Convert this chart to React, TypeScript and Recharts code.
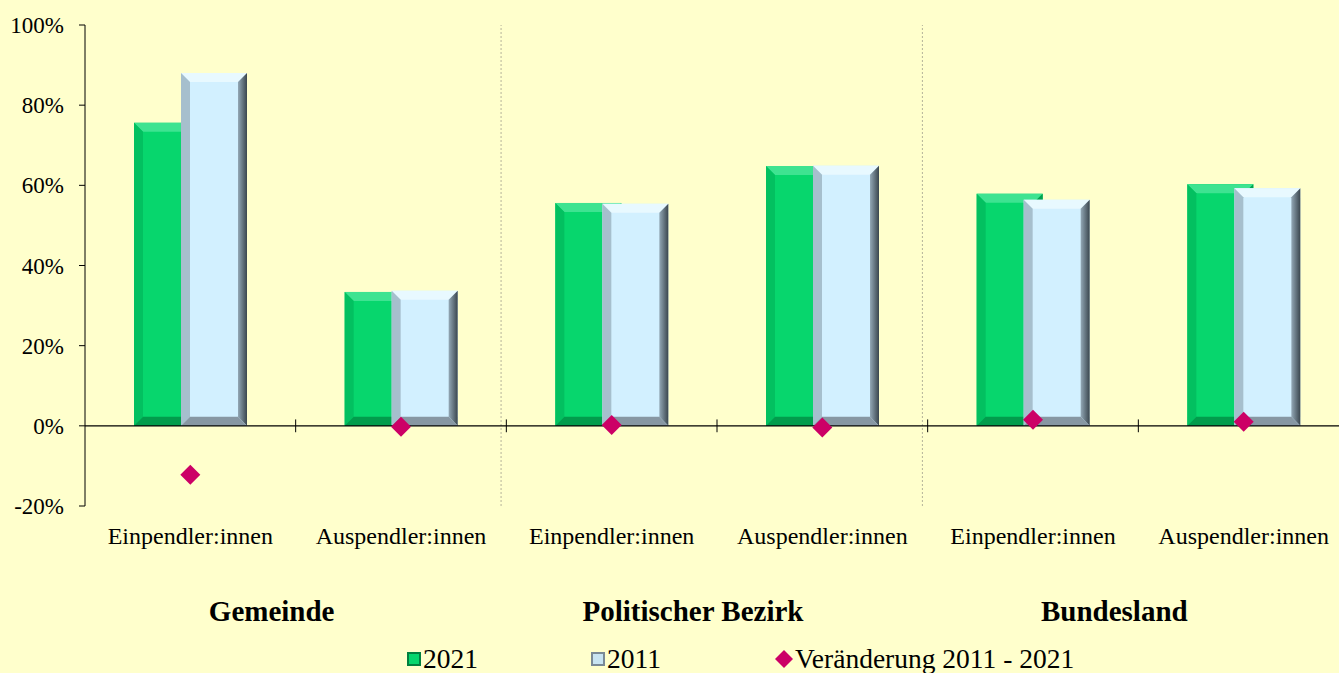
import React from "react";
import {
  ComposedChart,
  Bar,
  Line,
  XAxis,
  YAxis,
  ReferenceLine,
  Legend,
} from "recharts";

const categories = [
  "Einpendler:innen",
  "Auspendler:innen",
  "Einpendler:innen",
  "Auspendler:innen",
  "Einpendler:innen",
  "Auspendler:innen",
];
const values2021 = [75.6, 33.4, 55.6, 64.8, 57.9, 60.3];
const values2011 = [88.0, 33.7, 55.4, 64.9, 56.4, 59.3];
const valuesChange = [-12.2, -0.2, 0.2, -0.4, 1.5, 1.0];
const groupNames = ["Gemeinde", "Politischer Bezirk", "Bundesland"];
const groupCenters = [1, 3, 5];
const groupSeparators = [1.975, 3.975];
const categoryBoundaries = [1, 2, 3, 4, 5];
const yTicks = [-20, 0, 20, 40, 60, 80, 100];

const data = categories.map((c, i) => ({
  cat: c,
  pos: i + 0.5,
  v2021: values2021[i],
  v2011: values2011[i],
  change: valuesChange[i],
}));

const FONT = "'Liberation Serif', 'Times New Roman', serif";
const BG = "#FFFFCC";

type BevelColors = { face: string; top: string; left: string; right: string; bottom: string };

const greenBevel: BevelColors = {
  face: "#07D66D",
  top: "#3EE391",
  left: "#03C060",
  right: "#02A04F",
  bottom: "#029C4C",
};
const blueBevel: BevelColors = {
  face: "#D2F0FF",
  top: "#E8F9FF",
  left: "#A6BFCD",
  right: "url(#blueRight)",
  bottom: "#8797A3",
};

function makeBevel(c: BevelColors) {
  return (props: any) => {
    const { x, y, width, height } = props;
    if (!width || !height) return <g />;
    const w = width;
    const h = height;
    const b = Math.min(9, w / 4, h / 4);
    return (
      <g>
        <rect x={x} y={y} width={w} height={h} fill={c.face} />
        <polygon
          points={`${x},${y} ${x + w},${y} ${x + w - b},${y + b} ${x + b},${y + b}`}
          fill={c.top}
        />
        <polygon
          points={`${x},${y} ${x + b},${y + b} ${x + b},${y + h - b} ${x},${y + h}`}
          fill={c.left}
        />
        <polygon
          points={`${x + w},${y} ${x + w},${y + h} ${x + w - b},${y + h - b} ${x + w - b},${y + b}`}
          fill={c.right}
        />
        <polygon
          points={`${x},${y + h} ${x + b},${y + h - b} ${x + w - b},${y + h - b} ${x + w},${y + h}`}
          fill={c.bottom}
        />
      </g>
    );
  };
}

const GreenBar = makeBevel(greenBevel);
const BlueBar = makeBevel(blueBevel);

const Diamond = (props: any) => {
  const { cx, cy } = props;
  if (cx == null || cy == null) return <g />;
  const r = 10;
  return (
    <polygon
      points={`${cx},${cy - r} ${cx + r},${cy} ${cx},${cy + r} ${cx - r},${cy}`}
      fill="#CC0066"
    />
  );
};

const LegendContent = () => {
  const itemStyle: React.CSSProperties = {
    display: "flex",
    alignItems: "center",
    width: 184,
    fontFamily: FONT,
    fontSize: 27.5,
    lineHeight: "30px",
    color: "#000",
    whiteSpace: "nowrap",
  };
  return (
    <div style={{ display: "flex", paddingLeft: 406, paddingTop: 9, height: 29 }}>
      <div style={itemStyle}>
        <svg width={15} height={14} style={{ marginRight: 2 }}>
          <rect x={2} y={1} width={12} height={12} fill="#07D66D" stroke="#02803F" strokeWidth={2} />
        </svg>
        2021
      </div>
      <div style={itemStyle}>
        <svg width={15} height={14} style={{ marginRight: 2 }}>
          <rect x={2} y={1} width={12} height={12} fill="#C8E4F2" stroke="#7A8A96" strokeWidth={2} />
        </svg>
        2011
      </div>
      <div style={{ ...itemStyle, width: 340 }}>
        <svg width={20} height={20} style={{ marginRight: 1 }}>
          <polygon points="10,1 19,10 10,19 1,10" fill="#CC0066" />
        </svg>
        Veränderung 2011 - 2021
      </div>
    </div>
  );
};

const GroupTick = (props: any) => {
  const { x, y, payload } = props;
  const i = groupCenters.indexOf(payload.value);
  return (
    <text
      x={x - 24}
      y={y}
      dy="0.71em"
      textAnchor="middle"
      fontFamily={FONT}
      fontSize={29}
      fontWeight="bold"
      fill="#000"
    >
      {i >= 0 ? groupNames[i] : ""}
    </text>
  );
};

export default function App() {
  return (
    <div
      style={{
        position: "fixed",
        left: 0,
        top: 0,
        width: 1339,
        height: 673,
        overflow: "hidden",
        background: BG,
      }}
    >
      <ComposedChart
        width={1349}
        height={673}
        data={data}
        margin={{ top: 25, right: 0, bottom: 0, left: 0 }}
        barSize={66}
        barGap={-19}
      >
        <defs>
          <linearGradient id="blueRight" x1="0" y1="0" x2="1" y2="0">
            <stop offset="0%" stopColor="#93A8B6" />
            <stop offset="100%" stopColor="#3A464E" />
          </linearGradient>
        </defs>
        <XAxis
          dataKey="cat"
          xAxisId={0}
          interval={0}
          axisLine={false}
          tickLine={false}
          tickSize={0}
          tickMargin={21}
          height={80}
          tick={{ fontFamily: FONT, fontSize: 24, fill: "#000" }}
        />
        <XAxis
          xAxisId="grp"
          dataKey="pos"
          type="number"
          domain={[0, 6]}
          allowDataOverflow
          ticks={groupCenters}
          interval={0}
          axisLine={false}
          tickLine={false}
          tickSize={0}
          tickMargin={14}
          height={49}
          tick={<GroupTick />}
        />
        <YAxis
          domain={[-20, 100]}
          ticks={yTicks}
          interval={0}
          width={85}
          tickSize={6}
          tickMargin={15}
          axisLine={{ stroke: "#000", strokeWidth: 1 }}
          tickLine={{ stroke: "#000" }}
          tickFormatter={(v: number) => `${v}%`}
          tick={{ fontFamily: FONT, fontSize: 23, fill: "#000" }}
        />
        {groupSeparators.map((s) => (
          <ReferenceLine
            key={"sep" + s}
            xAxisId="grp"
            x={s}
            stroke="#B5B39A"
            strokeDasharray="2 2"
            strokeWidth={1}
          />
        ))}
        <Bar dataKey="v2021" fill="#07D66D" shape={<GreenBar />} isAnimationActive={false} />
        <Bar dataKey="v2011" fill="#D2F0FF" shape={<BlueBar />} isAnimationActive={false} />
        <ReferenceLine y={0} stroke="#000" strokeWidth={1.2} />
        {categoryBoundaries.map((b) => (
          <ReferenceLine
            key={"tb" + b}
            xAxisId="grp"
            segment={[
              { x: b, y: -1.6 },
              { x: b, y: 1.6 },
            ]}
            stroke="#000"
            strokeWidth={1}
          />
        ))}
        <Line
          dataKey="change"
          stroke="none"
          strokeWidth={0}
          dot={<Diamond />}
          activeDot={false}
          isAnimationActive={false}
        />
        <Legend verticalAlign="bottom" content={<LegendContent />} />
      </ComposedChart>
    </div>
  );
}
